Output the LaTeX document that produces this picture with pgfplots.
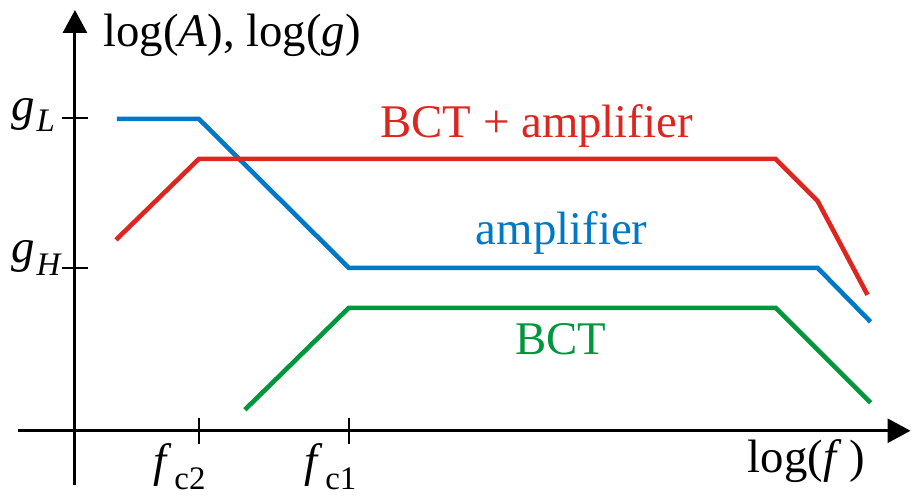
\documentclass[border=0pt]{standalone}
\usepackage{pgfplots}
\pgfplotsset{compat=1.18}
\usetikzlibrary{arrows.meta}
\usepackage{fontspec}
\setmainfont{Liberation Serif}[Ligatures=NoCommon]
% label fonts carry their own colour
\newfontfamily\redfont{Liberation Serif}[Ligatures=NoCommon, Color=DE2620]
\newfontfamily\bluefont{Liberation Serif}[Ligatures=NoCommon, Color=0078C8]
\newfontfamily\greenfont{Liberation Serif}[Ligatures=NoCommon, Color=00963C]
\newfontfamily\axfont{Liberation Serif}[Ligatures=NoCommon]
\newfontfamily\subfont{Liberation Serif}[Ligatures=NoCommon]

\definecolor{bctred}{RGB}{222,38,32}
\definecolor{ampblue}{RGB}{0,120,200}
\definecolor{bctgreen}{RGB}{0,150,60}

% zero-width glyph that makes the font be set afresh at the start of a label
\newcommand{\kick}{\rlap{\itshape\symbol{"00A0}}}
\newcommand{\bigsize}{\fontsize{47}{52}\selectfont}
\newcommand{\subsize}{\fontsize{33}{36}\selectfont}

\begin{document}
\begin{tikzpicture}
\begin{axis}[
  x=1bp, y=1bp,
  xmin=-57, xmax=836, ymin=-54, ymax=421,
  axis lines=middle,
  axis line style={line width=3bp, -{Triangle[length=23bp,width=24bp]}},
  xtick={124,274}, ytick={163,313},
  xticklabels={}, yticklabels={},
  tick align=center,
  major tick length=26bp,
  tick style={line width=2.6bp, black},
  clip=false,
  every node/.append style={inner sep=0pt},
]
% Bounding frame of the drawing
\path (axis cs:-75,-67) rectangle (axis cs:837,431);

% amplifier
\addplot[ampblue, line width=4.6bp] coordinates {
  (42,312) (124,312) (274,163) (743,163) (796,109)};
% BCT + amplifier
\addplot[bctred, line width=4.6bp] coordinates {
  (41,191) (124,272) (701,272) (743,230) (793,136)};
% BCT
\addplot[bctgreen, line width=4.6bp] coordinates {
  (170,21) (274,123) (701,123) (796,28)};

% Curve labels
\node[anchor=base, font=\redfont\bigsize] at (axis cs:462,293) {\kick BCT + amplifier};
\node[anchor=base, font=\bluefont\bigsize] at (axis cs:487,186) {\kick amplifier};
\node[anchor=base, font=\greenfont\bigsize] at (axis cs:486,76) {\kick BCT};

% Axis labels
\node[anchor=base west, font=\axfont\bigsize] at (axis cs:25,384) {\kick log(\textit{A}), log(\textit{g})};
\node[anchor=base, font=\axfont\bigsize] at (axis cs:732,-42) {\kick log(\textit{f}\,)};

% Tick labels: letter and its subscript
\node[anchor=base west, font=\axfont\bigsize\itshape] at (axis cs:-67,310) {g};
\node[anchor=base west, font=\subfont\subsize\itshape] at (axis cs:-42,299) {L};
\node[anchor=base west, font=\axfont\bigsize\itshape] at (axis cs:-67,168) {g};
\node[anchor=base west, font=\subfont\subsize\itshape] at (axis cs:-42,155) {H};
\node[anchor=base west, font=\axfont\bigsize\itshape] at (axis cs:75,-46) {f};
\node[anchor=base west, font=\subfont\subsize] at (axis cs:96,-59) {\kick c2};
\node[anchor=base west, font=\axfont\bigsize\itshape] at (axis cs:226,-46) {f};
\node[anchor=base west, font=\subfont\subsize] at (axis cs:247,-59) {\kick c1};
\end{axis}
\end{tikzpicture}
\end{document}
